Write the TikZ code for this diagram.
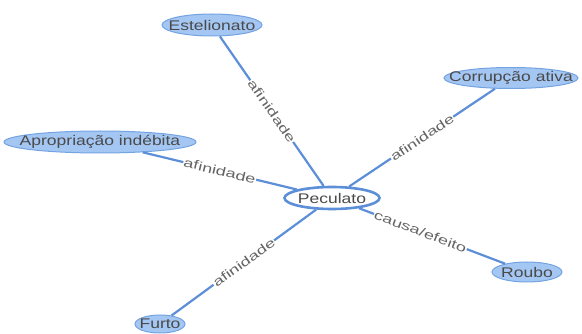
\documentclass[tikz,border=0pt]{standalone}
\usepackage{fontspec}
\usepackage{xcolor}
\usepackage{tikz}
\usetikzlibrary{shapes.geometric}
\newfontfamily\conceptfont[FakeStretch=1.25]{Liberation Sans}
\newfontfamily\relfont[FakeStretch=1.45]{Liberation Sans}
\definecolor{conceptbg}{HTML}{A4C6F2}
\definecolor{conceptrim}{HTML}{74A3E2}
\definecolor{linkblue}{HTML}{5C8FD8}
\definecolor{txtgray}{HTML}{4A4A4A}

\tikzset{
  concept/.style={ellipse, draw=conceptrim, fill=conceptbg, line width=1pt, inner sep=0pt,
    text=txtgray, font=\conceptfont\fontsize{14}{16}\selectfont},
  hub/.style={concept, fill=white, draw=linkblue, line width=2.6pt},
  link/.style={draw=linkblue, line width=2.2pt},
  rel/.style={midway, sloped, fill=white, inner sep=0.6pt, text=txtgray!85,
    font=\relfont\fontsize{12.5}{14}\selectfont}
}
\newcommand{\ctext}[1]{\makebox[0pt]{#1}}

\begin{document}
\begin{tikzpicture}[x=1pt, y=-1pt]
  \useasboundingbox (0,0) rectangle (582,334);

  % Concepts
  \node[hub, minimum width=95pt, minimum height=22pt] (pec) at (332,198) {\ctext{Peculato}};
  \node[concept, minimum width=100pt, minimum height=22pt] (est) at (212,25) {\ctext{Estelionato}};
  \node[concept, minimum width=134pt, minimum height=21pt] (cor) at (511,78) {\ctext{Corrupção ativa}};
  \node[concept, minimum width=192pt, minimum height=22pt] (apr) at (100,142) {\ctext{Apropriação indébita}};
  \node[concept, minimum width=70pt, minimum height=20pt] (rou) at (527,272) {\ctext{Roubo}};
  \node[concept, minimum width=50pt, minimum height=18pt] (fur) at (160,324) {\ctext{Furto}};

  % Links
  \draw[link] (est) -- (pec) node[rel] {afinidade};
  \draw[link] (pec) -- (cor) node[rel] {afinidade};
  \draw[link] (apr) -- (pec) node[rel] {afinidade};
  \draw[link] (pec) -- (rou) node[rel, pos=0.42] {causa/efeito};
  \draw[link] (fur) -- (pec) node[rel] {afinidade};
\end{tikzpicture}
\end{document}
